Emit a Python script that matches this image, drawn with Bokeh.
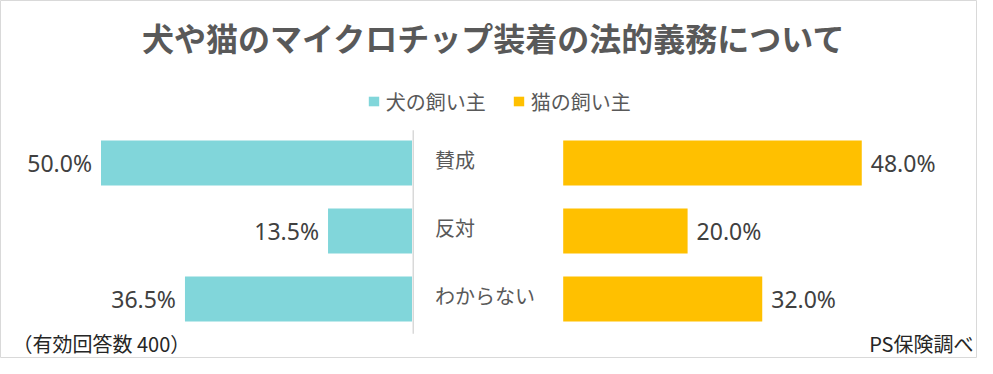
from bokeh.plotting import figure
from bokeh.models import Range1d, Label, Legend, LegendItem, ColumnDataSource
from bokeh.core.properties import value
from bokeh.embed import file_html
from bokeh.resources import INLINE

# ---- data ----
title_text = "犬や猫のマイクロチップ装着の法的義務について"
categories = ["賛成", "反対", "わからない"]
dog_values = [50.0, 13.5, 36.5]
cat_values = [48.0, 20.0, 32.0]
series_names = ["犬の飼い主", "猫の飼い主"]
note_left = "（有効回答数 400）"
note_right = "PS保険調べ"

# ---- layout constants ----
W, H = 977, 358
PX = 6.22            # pixels per percentage point
ZERO = 411.5         # x pixel of dog baseline
GAP = 151.2 / PX     # offset of cat baseline in data units
ROW = 68.0           # pixels per category row
FIRST = 162.5        # y pixel (from top) of first row centre
BAR_H = 45.0 / ROW

JP = "Noto Sans CJK JP"
DOG_COLOR = "#81D6DA"
CAT_COLOR = "#FFC000"
TEXT = "#595959"
NUM = "#404040"

p = figure(width=W, height=H, output_backend="svg", toolbar_location=None,
           x_range=Range1d(-ZERO / PX, (W - ZERO) / PX),
           y_range=Range1d((H - FIRST) / ROW, -FIRST / ROW),
           x_axis_type=None, y_axis_type=None, min_border=0,
           outline_line_color="#D9D9D9", outline_line_width=1,
           background_fill_color="white", border_fill_color="white")

ys = list(range(len(categories)))
src = ColumnDataSource(dict(
    y=ys,
    cat=categories,
    dog_left=[-v for v in dog_values],
    cat_left=[GAP] * len(cat_values),
    cat_right=[GAP + v for v in cat_values],
    dog_lbl=[f"{v:.1f}%" for v in dog_values],
    cat_lbl=[f"{v:.1f}%" for v in cat_values],
    zero=[0] * len(categories),
))

r_dog = p.hbar(y="y", left="dog_left", right="zero", height=BAR_H,
               fill_color=DOG_COLOR, line_color=None, source=src)
r_cat = p.hbar(y="y", left="cat_left", right="cat_right", height=BAR_H,
               fill_color=CAT_COLOR, line_color=None, source=src)

# centre divider
p.segment(x0=[0.2], x1=[0.2], y0=[-0.48], y1=[len(categories) - 0.49],
          line_color="#D9D9D9", line_width=1.5)

# value labels
p.text(x="dog_left", y="y", text="dog_lbl", source=src, x_offset=-9,
       text_align="right", text_baseline="middle",
       text_font=value("Noto Sans"), text_font_size="23px", text_color=NUM)
p.text(x="cat_right", y="y", text="cat_lbl", source=src, x_offset=9,
       text_align="left", text_baseline="middle",
       text_font=value("Noto Sans"), text_font_size="23px", text_color=NUM)

# category labels
p.text(x="zero", y="y", text="cat", source=src, x_offset=23, y_offset=-4,
       text_align="left", text_baseline="middle",
       text_font=value(JP), text_font_size="20px", text_color=TEXT)

# title
p.add_layout(Label(x=493.5, y=H - 36.5, x_units="screen", y_units="screen",
                   text=title_text, text_align="center", text_baseline="middle",
                   text_font=JP, text_font_size="32px", text_font_style="bold",
                   text_color=TEXT))

# legend
legend = Legend(items=[LegendItem(label=series_names[0], renderers=[r_dog]),
                       LegendItem(label=series_names[1], renderers=[r_cat])],
                orientation="horizontal", location=(366.7, 242.5),
                glyph_width=13, glyph_height=12, label_standoff=6, spacing=26,
                padding=0, margin=0, border_line_color=None,
                background_fill_alpha=0,
                label_text_font=JP, label_text_font_size="20px",
                label_text_color=TEXT)
p.add_layout(legend)

# footnotes
p.add_layout(Label(x=12, y=H - 343, x_units="screen", y_units="screen",
                   text=note_left, text_align="left", text_baseline="middle",
                   text_font=JP, text_font_size="20px", text_color="#262626"))
p.add_layout(Label(x=973, y=H - 343, x_units="screen", y_units="screen",
                   text=note_right, text_align="right", text_baseline="middle",
                   text_font=JP, text_font_size="20px", text_color="#262626"))

open("out.html", "w").write(file_html(p, INLINE))
